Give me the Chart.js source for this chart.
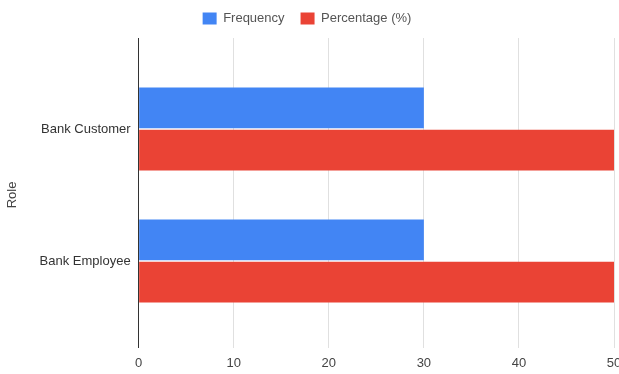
<!DOCTYPE html>
<html>
<head>
<meta charset="utf-8">
<script src="https://cdn.jsdelivr.net/npm/chart.js@4/dist/chart.umd.min.js"></script>
<style>
  html, body { margin: 0; padding: 0; background: #fff; }
  #wrap { width: 619px; height: 374px; }
</style>
</head>
<body>
<div id="wrap"><canvas id="myChart"></canvas></div>
<script>
// data
var roles = ['Bank Customer', 'Bank Employee'];
var frequency = [30, 30];
var percentage = [50, 50];
var xMin = 0, xMax = 50, xStep = 10;

Chart.defaults.font.family = '"Liberation Sans", Arial, sans-serif';
Chart.defaults.font.size = 13;
Chart.defaults.color = '#444';

// gridlines in the reference run above and below the bar area
var extendGrid = {
    id: 'extendGrid',
    beforeDatasetsDraw: function (chart) {
        var ctx = chart.ctx, x = chart.scales.x, top = chart.chartArea.top;
        ctx.save();
        ctx.lineWidth = 1;
        x.ticks.forEach(function (t) {
            var px = Math.round(x.getPixelForValue(t.value) - 0.5) + 0.5;
            ctx.strokeStyle = t.value === 0 ? '#333' : '#e0e0e0';
            ctx.beginPath();
            ctx.moveTo(px, 38);
            ctx.lineTo(px, top);
            ctx.stroke();
        });
        ctx.restore();
    }
};

var legendGap = {
    id: 'legendGap',
    beforeInit: function (chart) {
        var fit = chart.legend.fit;
        chart.legend.fit = function () {
            fit.bind(chart.legend)();
            this.height += 28;
        };
    }
};

var ctx = document.getElementById('myChart').getContext('2d');
var chart = new Chart(ctx, {
    type: 'bar',
    data: {
        labels: roles,
        datasets: [{
            label: 'Frequency',
            backgroundColor: '#4285f4',
            data: frequency
        }, {
            label: 'Percentage (%)',
            backgroundColor: '#ea4335',
            data: percentage
        }]
    },
    options: {
        indexAxis: 'y',
        responsive: true,
        maintainAspectRatio: false,
        animation: false,
        layout: { padding: { top: -4, right: 5, left: 0, bottom: 0 } },
        datasets: {
            bar: { categoryPercentage: 0.64, barPercentage: 0.97 }
        },
        plugins: {
            legend: {
                position: 'top',
                labels: { boxWidth: 14, boxHeight: 12, padding: 16, color: '#555' }
            },
            tooltip: { enabled: false }
        },
        scales: {
            x: {
                min: xMin,
                max: xMax,
                ticks: { stepSize: xStep, padding: 8, color: '#444' },
                border: { display: false },
                grid: {
                    tickLength: 21,
                    color: function (c) { return c.tick && c.tick.value === 0 ? '#333' : '#e0e0e0'; }
                },
                afterFit: function (scale) {
                    // let the last label run off the edge like the reference
                    scale.paddingLeft = 0;
                    scale.paddingRight = 0;
                    scale.height = 47;
                }
            },
            y: {
                grid: { display: false },
                border: { display: false },
                ticks: { padding: 0, color: '#333' },
                title: { display: true, text: 'Role', color: '#444', padding: { top: 5, bottom: 19 } }
            }
        }
    },
    plugins: [extendGrid, legendGap]
});
</script>
</body>
</html>
